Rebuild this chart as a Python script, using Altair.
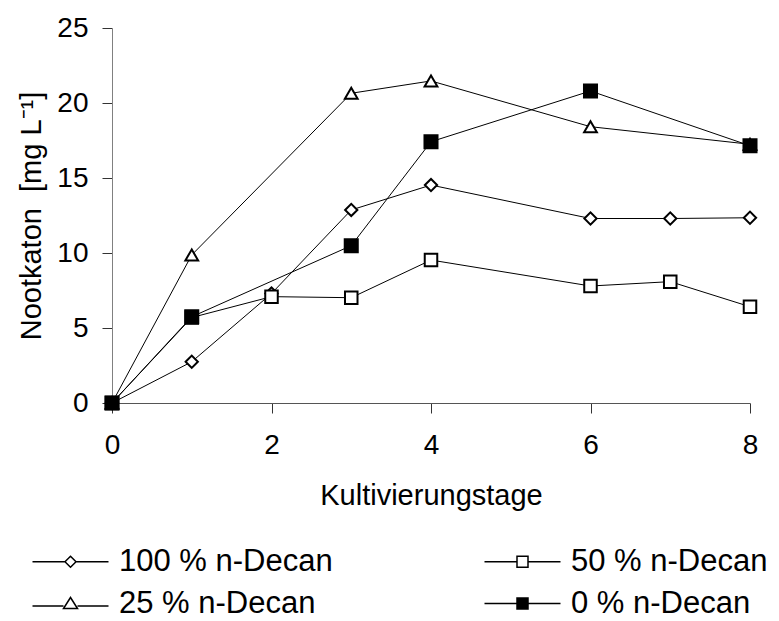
import altair as alt
import pandas as pd

# ---- data ----
series_order = ["100 % n-Decan", "50 % n-Decan", "25 % n-Decan", "0 % n-Decan"]
legend_order = ["100 % n-Decan", "25 % n-Decan", "50 % n-Decan", "0 % n-Decan"]

days_100 = [0, 1, 2, 3, 4, 6, 7, 8]
vals_100 = [0.0, 2.75, 7.3, 12.87, 14.53, 12.3, 12.3, 12.35]

days_25 = [0, 1, 3, 4, 6, 8]
vals_25 = [0.0, 9.87, 20.65, 21.47, 18.42, 17.25]

days_50 = [0, 1, 2, 3, 4, 6, 7, 8]
vals_50 = [0.0, 5.7, 7.09, 7.02, 9.53, 7.8, 8.09, 6.42]

days_0 = [0, 1, 3, 4, 6, 8]
vals_0 = [0.0, 5.75, 10.49, 17.42, 20.8, 17.15]

# drawing order (later rows drawn on top)
rows = []
for name, ds, vs in [("100 % n-Decan", days_100, vals_100),
                     ("25 % n-Decan", days_25, vals_25),
                     ("50 % n-Decan", days_50, vals_50),
                     ("0 % n-Decan", days_0, vals_0)]:
    for d, v in zip(ds, vs):
        rows.append({"series": name, "day": d, "value": v})
df = pd.DataFrame(rows)

# marker styles per series (same order as series_order)
plot_shapes = ["diamond", "square", "triangle-up", "square"]
plot_sizes = [150, 170, 260, 220]
fills = ["white", "white", "white", "black"]

# legend symbols (same order as legend_order)
legend_paths = [
    "M-7.6,0L-1.1,0M1.1,0L7.6,0M0,-1.1L1.1,0L0,1.1L-1.1,0Z",
    "M-7.6,0.5L-1.4,0.5M1.4,0.5L7.6,0.5M0,-1.2L1.4,1.0L-1.4,1.0Z",
    "M-7.6,0L-1.1,0M1.1,0L7.6,0M-1.1,-1.1L1.1,-1.1L1.1,1.1L-1.1,1.1Z",
    "M-7.6,0L7.6,0M-1.1,-1.1L1.1,-1.1L1.1,1.1L-1.1,1.1Z",
]
legend_fills = ["white", "white", "white", "black"]

FONT = "Liberation Sans"

x_enc = alt.X("day:Q",
              scale=alt.Scale(domain=[0, 8], nice=False, zero=False),
              axis=alt.Axis(values=[0, 2, 4, 6, 8], format="d", title="Kultivierungstage",
                            grid=False, tickSize=10, labelPadding=18, labelFlush=False,
                            titlePadding=22, domainColor="#555555",
                            tickColor="#333333"))
y_enc = alt.Y("value:Q",
              scale=alt.Scale(domain=[0, 25], nice=False),
              axis=alt.Axis(values=[0, 5, 10, 15, 20, 25], format="d",
                            title="Nootkaton \u00a0[mg L\u207b\u00b9]",
                            grid=False, tickSize=10, labelPadding=14, labelFlush=False,
                            titlePadding=10, domainColor="#808080",
                            tickColor="#333333"))

base = alt.Chart(df)

lines = base.mark_line(color="black", strokeWidth=1).encode(
    x=x_enc, y=y_enc, detail="series:N", order="day:Q")

points = base.mark_point(filled=True, stroke="black", strokeWidth=2, opacity=1).encode(
    x="day:Q", y="value:Q",
    shape=alt.Shape("series:N", scale=alt.Scale(domain=series_order, range=plot_shapes), legend=None),
    fill=alt.Fill("series:N", scale=alt.Scale(domain=series_order, range=fills), legend=None),
    size=alt.Size("series:N", scale=alt.Scale(domain=series_order, range=plot_sizes), legend=None),
)

leg = dict(title=None, orient="none", legendX=-57, legendY=518,
           columns=2, columnPadding=148, rowPadding=10,
           labelOffset=33, symbolSize=100, symbolStrokeWidth=1.5,
           labelFontSize=31, labelFont=FONT, labelColor="black",
           labelLimit=400)

legend_layer = base.transform_filter(alt.datum.day < 0).mark_point(
    filled=True, stroke="black", strokeWidth=1.5, opacity=1).encode(
    x="day:Q", y="value:Q",
    shape=alt.Shape("series:N", scale=alt.Scale(domain=legend_order, range=legend_paths),
                    legend=alt.Legend(**leg)),
    fill=alt.Fill("series:N", scale=alt.Scale(domain=legend_order, range=legend_fills),
                  legend=alt.Legend(**leg)),
)

chart = alt.layer(lines, points, legend_layer).resolve_scale(
    shape="independent", fill="independent", size="independent"
).resolve_legend(shape="independent", fill="independent").properties(
    width=638, height=375,
    autosize=alt.AutoSizeParams(type="none"),
    padding={"left": 104, "top": 20, "right": 21, "bottom": 218},
    background="white",
).configure_view(stroke=None).configure_axis(
    labelFont=FONT, titleFont=FONT, labelFontSize=28, titleFontSize=29,
    labelColor="black", titleColor="black", titleFontWeight="normal",
    domainWidth=1, tickWidth=1,
)

chart.save("out.html", embed_options={"renderer": "svg", "actions": False})
